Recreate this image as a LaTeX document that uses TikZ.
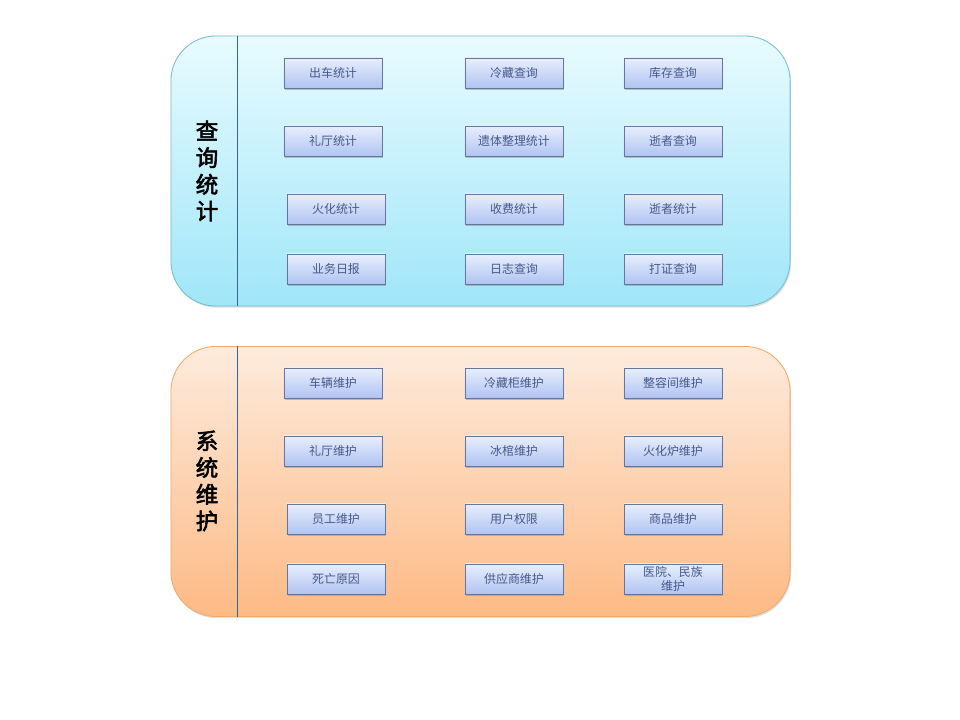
\documentclass[tikz,border=0pt]{standalone}
\usepackage{fontspec}
\setmainfont{Noto Sans CJK SC}
\newfontfamily\titlefont[FakeBold=2.5]{Noto Sans CJK SC}
\usepackage{tikz}
\usetikzlibrary{calc,positioning,shadows}
\definecolor{q_top}{HTML}{E8FBFE}
\definecolor{q_bottom}{HTML}{A0E6F9}
\definecolor{q_edge}{HTML}{79BCCB}
\definecolor{m_top}{HTML}{FDEBDD}
\definecolor{m_bottom}{HTML}{FDBA85}
\definecolor{m_edge}{HTML}{F2A868}
\definecolor{item_top}{HTML}{E8EEFC}
\definecolor{item_bottom}{HTML}{B0C4F2}
\definecolor{item_edge}{HTML}{62769F}
\definecolor{item_text}{HTML}{45598A}
\definecolor{divider}{HTML}{3A6490}
\tikzset{
panel/.style={rectangle, rounded corners=1.125cm, minimum width=15.475cm, minimum height=6.75cm, line width=0.6pt, drop shadow={opacity=0.25, shadow xshift=0.8pt, shadow yshift=-1.2pt}},
panel_q/.style={panel, draw=q_edge, top color=q_top, bottom color=q_bottom},
panel_m/.style={panel, draw=m_edge, top color=m_top, bottom color=m_bottom},
item/.style={rectangle, draw=item_edge, line width=0.6pt, top color=item_top, bottom color=item_bottom, minimum width=2.45cm, minimum height=0.75cm, inner sep=1pt, align=center, text=item_text, font=\fontsize{8.5}{9.5}\selectfont, drop shadow={opacity=0.45, shadow xshift=0.9pt, shadow yshift=-1.2pt}},
title/.style={align=center, font=\titlefont\fontsize{16}{19}\selectfont, text=black}
}

\begin{document}
\begin{tikzpicture}[x=0.025cm, y=-0.025cm]
    \useasboundingbox[fill=white] (0,0) rectangle (960,720);
    % query panel
    \node[panel_q] (query) at (480.5,171) {};
    \draw[divider, line width=0.6pt] ($(query.north west)+(67,0)$) -- ($(query.south west)+(67,0)$);
    \node[title] (query_title) at (207,171) {查\\询\\统\\计};
    \node[item] (q_1_1) at (333,73) {出车统计};
    \node[item] (q_1_2) at (514,73) {冷藏查询};
    \node[item] (q_1_3) at (673,73) {库存查询};
    \node[item] (q_2_1) at (333,141) {礼厅统计};
    \node[item] (q_2_2) at (514,141) {遗体整理统计};
    \node[item] (q_2_3) at (673,141) {逝者查询};
    \node[item] (q_3_1) at (336,209) {火化统计};
    \node[item] (q_3_2) at (514,209) {收费统计};
    \node[item] (q_3_3) at (673,209) {逝者统计};
    \node[item] (q_4_1) at (336,269) {业务日报};
    \node[item] (q_4_2) at (514,269) {日志查询};
    \node[item] (q_4_3) at (673,269) {打证查询};
    % maintenance panel
    \node[panel_m] (maint) at (480.5,481.5) {};
    \draw[divider, line width=0.6pt] ($(maint.north west)+(67,0)$) -- ($(maint.south west)+(67,0)$);
    \node[title] (maint_title) at (207,481) {系\\统\\维\\护};
    \node[item] (m_1_1) at (333,383) {车辆维护};
    \node[item] (m_1_2) at (514,383) {冷藏柜维护};
    \node[item] (m_1_3) at (673,383) {整容间维护};
    \node[item] (m_2_1) at (333,451) {礼厅维护};
    \node[item] (m_2_2) at (514,451) {冰棺维护};
    \node[item] (m_2_3) at (673,451) {火化炉维护};
    \node[item] (m_3_1) at (336,519) {员工维护};
    \node[item] (m_3_2) at (514,519) {用户权限};
    \node[item] (m_3_3) at (673,519) {商品维护};
    \node[item] (m_4_1) at (336,579) {死亡原因};
    \node[item] (m_4_2) at (514,579) {供应商维护};
    \node[item] (m_4_3) at (673,579) {医院、民族\\维护};
\end{tikzpicture}
\end{document}
